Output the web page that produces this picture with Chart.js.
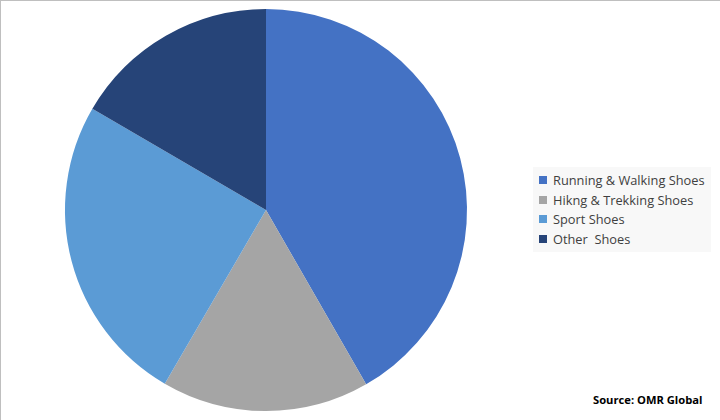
<!DOCTYPE html>
<html>
<head>
<meta charset="utf-8">
<script src="https://cdn.jsdelivr.net/npm/chart.js@4"></script>
<style>
  html, body { margin: 0; padding: 0; background: #fff; }
  #wrap { position: relative; width: 720px; height: 420px; box-sizing: border-box; border-top: 1px solid #bfbfbf; border-left: 1px solid #bfbfbf; overflow: hidden; }
  #cv { position: absolute; left: -1px; top: -1px; }
  #legend { position: absolute; left: 532px; top: 166px; width: 178px; height: 85px; background: #f8f8f8; box-sizing: border-box; padding-top: 3px; }
  .row { display: flex; align-items: center; height: 19.7px; font-family: "Open Sans", "Liberation Sans", sans-serif; font-size: 12.8px; color: #404040; white-space: pre; }
  .sw { width: 8px; height: 8px; margin-left: 6px; margin-right: 6px; }
  #source { position: absolute; left: 592px; top: 391px; font-family: "Open Sans", "Liberation Sans", sans-serif; font-weight: bold; font-size: 11.2px; color: #000; }
</style>
</head>
<body>
<div id="wrap">
  <canvas id="cv" width="532" height="420"></canvas>
  <div id="legend"></div>
  <div id="source">Source: OMR Global</div>
</div>
<script>
const categories = ["Running & Walking Shoes", "Hikng & Trekking Shoes", "Sport Shoes", "Other  Shoes"];
const shares = [41.7, 16.7, 25.0, 16.6];
const colors = ["#4472c4", "#a5a5a5", "#5b9bd5", "#264478"];

const legend = document.getElementById('legend');
categories.forEach((c, i) => {
  const row = document.createElement('div');
  row.className = 'row';
  const sw = document.createElement('span');
  sw.className = 'sw';
  sw.style.background = colors[i];
  row.appendChild(sw);
  row.appendChild(document.createTextNode(c));
  legend.appendChild(row);
});

new Chart(document.getElementById('cv'), {
  type: 'pie',
  data: {
    labels: categories,
    datasets: [{ data: shares, backgroundColor: colors, borderWidth: 0 }]
  },
  options: {
    responsive: false,
    animation: false,
    rotation: 0,
    layout: { padding: { top: 9, bottom: 9, left: 0, right: 0 } },
    plugins: { legend: { display: false }, tooltip: { enabled: false } }
  }
});
</script>
</body>
</html>
